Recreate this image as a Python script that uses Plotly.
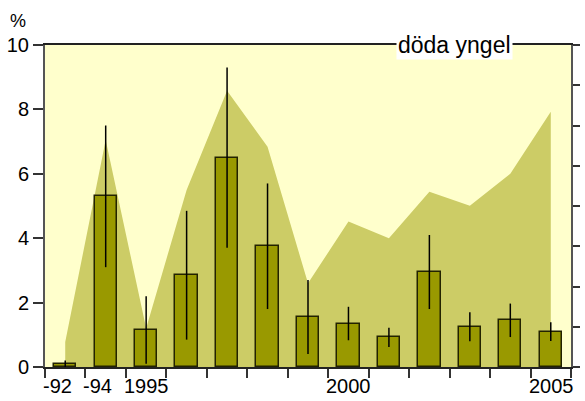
import numpy as np
import plotly.graph_objects as go

# Years shown on the x axis (1993 has no sample)
years = ["1992", "1994", "1995", "1996", "1997", "1998", "1999",
         "2000", "2001", "2002", "2003", "2004", "2005"]
tick_labels = ["-92", "-94", "1995", "", "", "", "", "2000", "", "", "", "", "2005"]

# Share of dead fry, % (bars) and their error margins
dead_pct = [0.1, 5.3, 1.15, 2.85, 6.5, 3.75, 1.55, 1.35, 0.92, 2.95, 1.25, 1.45, 1.1]
dead_err = [0.1, 2.2, 1.05, 2.0, 2.8, 1.95, 1.15, 0.52, 0.3, 1.15, 0.45, 0.52, 0.29]

# Background series drawn as a filled area
area_vals = [0.78, 7.05, 1.2, 5.5, 8.58, 6.84, 2.6, 4.52, 4.0, 5.44, 5.01, 6.0, 7.93]

idx = np.arange(len(years))
bounds = np.arange(len(years) + 1) - 0.5

FONT = "Liberation Sans, Arial, Helvetica, sans-serif"

fig = go.Figure()

# Filled area on the base axis (drawn underneath)
fig.add_trace(go.Scatter(
    x=idx, y=area_vals, mode="lines", fill="tozeroy",
    line=dict(width=0, color="#CCCC66"), fillcolor="#CCCC66",
    hoverinfo="skip", showlegend=False,
))

# Empty trace so the right-hand axis is rendered
fig.add_trace(go.Scatter(x=[], y=[], yaxis="y2", showlegend=False))

# Bars on an overlay axis with the same scale, so they sit above the area
fig.add_trace(go.Bar(
    x=idx, y=dead_pct, width=0.55, yaxis="y3",
    marker=dict(color="#999900", line=dict(color="#222200", width=1.5)),
    error_y=dict(type="data", array=dead_err, color="black", thickness=1.5, width=0),
    showlegend=False,
))

annotations = []
for b, lab in zip(bounds, tick_labels):
    if lab:
        annotations.append(dict(
            x=b, y=0, xref="x", yref="paper", text=lab, showarrow=False,
            xanchor="left", yanchor="middle", xshift=-4, yshift=-19,
            font=dict(family=FONT, size=20, color="black"),
        ))

annotations.append(dict(
    x=0.7786, y=1, xref="paper", yref="paper", text="döda yngel",
    showarrow=False, xanchor="center", yanchor="middle", bgcolor="white",
    borderpad=1, font=dict(family=FONT, size=23, color="black"),
))
annotations.append(dict(
    x=0, y=1, xref="paper", yref="paper", text="%", showarrow=False,
    xanchor="center", yanchor="bottom", xshift=-27, yshift=12,
    font=dict(family=FONT, size=18, color="black"),
))

fig.update_layout(
    width=585, height=401,
    margin=dict(l=45, r=7, t=45, b=34),
    paper_bgcolor="white", plot_bgcolor="#FFFFCC",
    bargap=0,
    font=dict(family=FONT, size=20, color="black"),
    xaxis=dict(
        range=[-0.5, len(years) - 0.5], tickmode="array", tickvals=bounds,
        showticklabels=False, ticks="outside", ticklen=9, tickwidth=1.5,
        tickcolor="#333333", showline=True, linecolor="#222222", linewidth=1.5,
        mirror=True, showgrid=False, zeroline=False, fixedrange=True,
    ),
    yaxis=dict(
        range=[0, 10], dtick=2, ticks="outside", ticklen=10, tickwidth=1.5,
        tickcolor="#333333", showline=True, linecolor="#555555", linewidth=2,
        showgrid=False, zeroline=False, tickfont=dict(size=20),
    ),
    yaxis2=dict(
        overlaying="y", side="right", anchor="x", range=[0, 8], dtick=1,
        showticklabels=False, ticks="outside", ticklen=7, tickwidth=1.5,
        tickcolor="#333333", showline=True, linecolor="#555555", linewidth=2,
        showgrid=False, zeroline=False,
    ),
    yaxis3=dict(
        overlaying="y", anchor="x", range=[0, 10], visible=False,
        showgrid=False, zeroline=False,
    ),
    annotations=annotations,
)

fig.write_html("out.html")
